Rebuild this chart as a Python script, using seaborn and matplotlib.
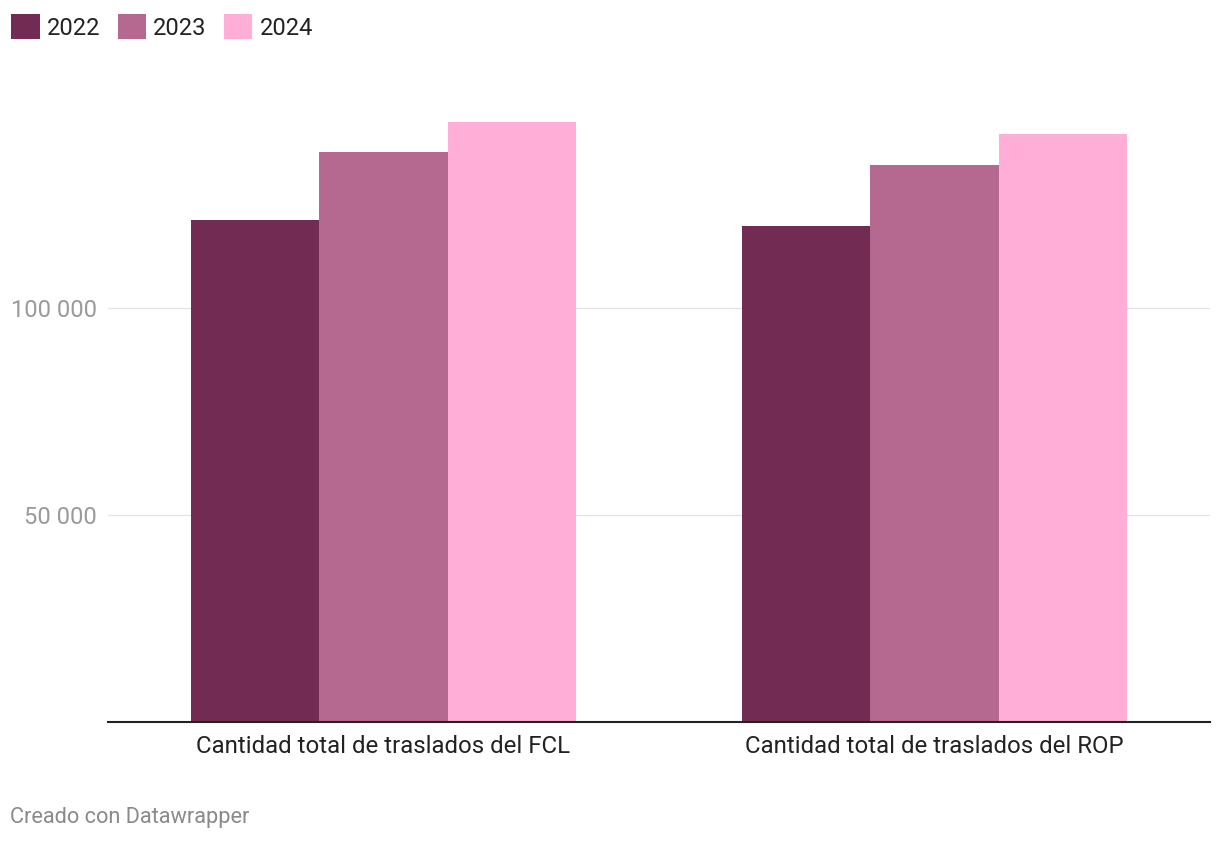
import numpy as np
import pandas as pd
import matplotlib
matplotlib.use("Agg")
import matplotlib.pyplot as plt
import seaborn as sns
from matplotlib.patches import Patch
from matplotlib.ticker import FuncFormatter

# values
categories = ["Cantidad total de traslados del FCL", "Cantidad total de traslados del ROP"]
years = ["2022", "2023", "2024"]
vals_2022 = [121200, 119700]
vals_2023 = [137600, 134400]
vals_2024 = [144800, 141900]
colors = ["#722b53", "#b56990", "#ffaed8"]

df = pd.DataFrame({
    "cat": categories * 3,
    "year": ["2022"] * 2 + ["2023"] * 2 + ["2024"] * 2,
    "val": vals_2022 + vals_2023 + vals_2024,
})

sns.set_style("white")
plt.rcParams["font.family"] = ["Roboto", "DejaVu Sans"]

fig = plt.figure(figsize=(12.2, 8.44), dpi=100)
ax = fig.add_axes([108 / 1220, 1 - 722.3 / 844, 1102 / 1220, (722.3 - 108.7) / 844])

sns.barplot(data=df, x="cat", y="val", hue="year", hue_order=years,
            palette=colors, width=0.7, saturation=1, linewidth=0,
            legend=False, ax=ax)

ax.set_xlim(-0.5, 1.5)
ax.set_ylim(0, 148000)
ax.set_yticks([50000, 100000])
ax.yaxis.set_major_formatter(FuncFormatter(lambda v, p: f"{int(v):,}".replace(",", " ")))
ax.grid(axis="y", color="#e3e3e3", linewidth=0.9)
ax.set_axisbelow(True)
for s in ["top", "right", "left"]:
    ax.spines[s].set_visible(False)
ax.spines["bottom"].set_color("#222222")
ax.spines["bottom"].set_linewidth(1.5)
ax.set_xlabel("")
ax.set_ylabel("")
ax.tick_params(axis="y", length=0, pad=8, labelsize=17.1, labelcolor="#9a9a9a")
ax.tick_params(axis="x", length=0, pad=9, labelsize=17.3, labelcolor="#222222")

handles = [Patch(facecolor=c, edgecolor="none") for c in colors]
fig.legend(handles, years, loc="upper left", bbox_to_anchor=(2 / 1220, 1 - 5 / 844),
           ncol=3, frameon=False, fontsize=17, handlelength=1.2, handleheight=1.2,
           handletextpad=0.3, columnspacing=0.74, borderaxespad=0, labelcolor="#222222")

fig.text(10 / 1220, 1 - 818 / 844, "Creado con Datawrapper", fontsize=15.7,
         color="#8a8a8a", va="center", ha="left")

fig.savefig("out.png", dpi=100, facecolor="white")
